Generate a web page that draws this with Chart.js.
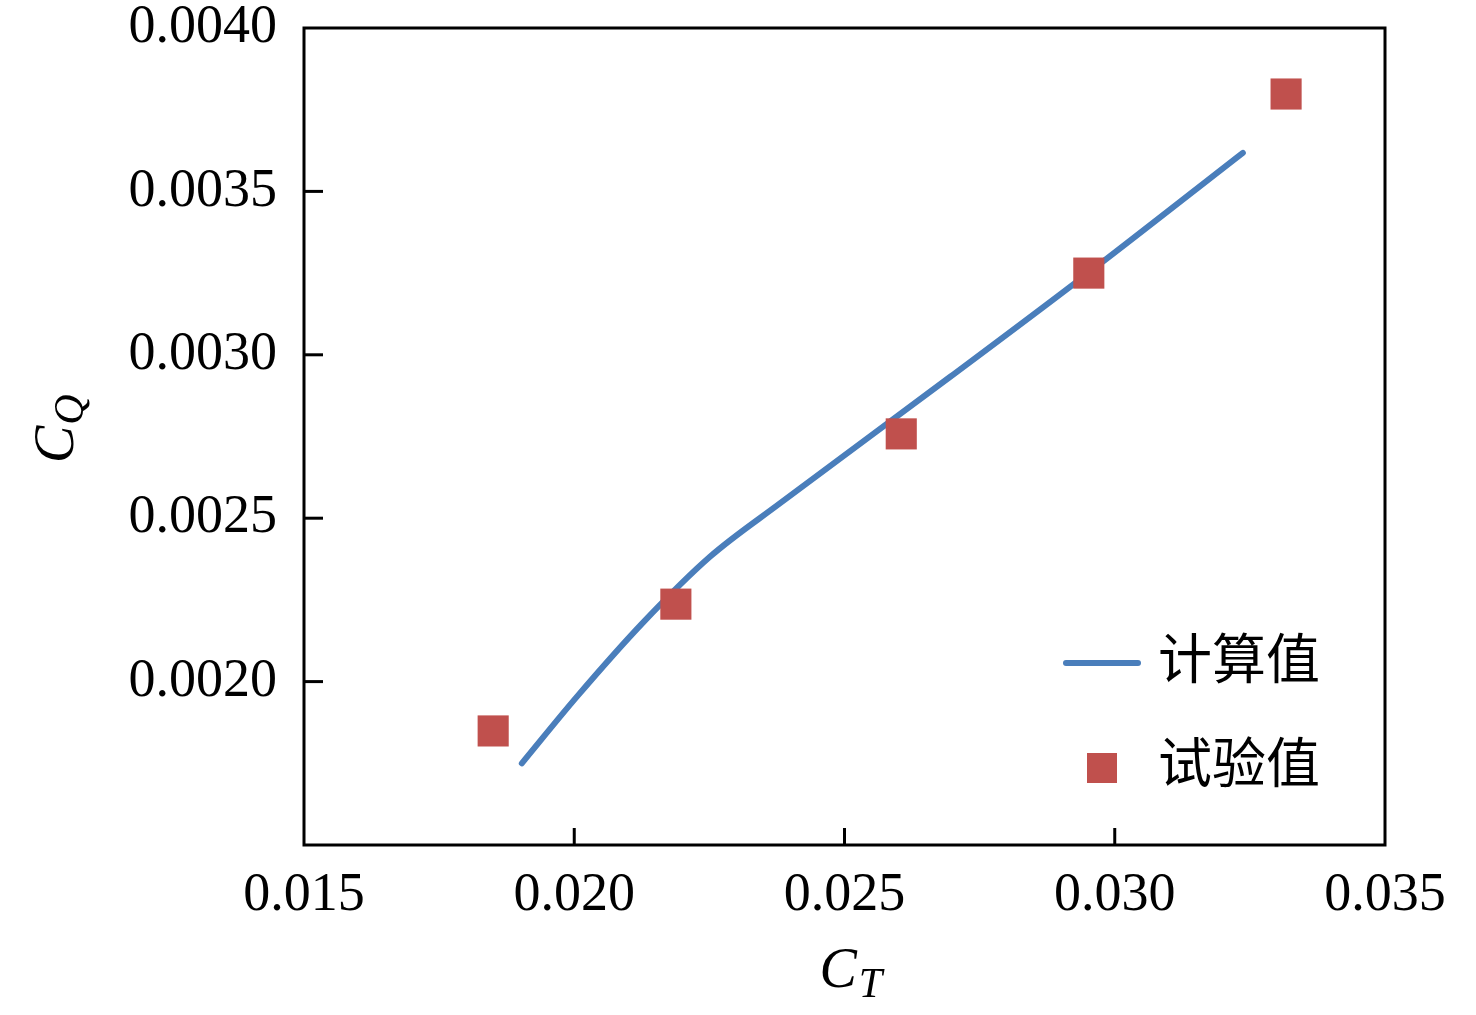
<!DOCTYPE html>
<html>
<head>
<meta charset="utf-8">
<script src="https://cdn.jsdelivr.net/npm/chart.js@4.4.1/dist/chart.umd.min.js"></script>
<style>
  html, body { margin: 0; padding: 0; background: #ffffff; }
  #wrap { width: 1476px; height: 1015px; }
</style>
</head>
<body>
<div id="wrap"><canvas id="c" width="1476" height="1015"></canvas></div>
<script>
// ---- data ----
const calcLabel = '计算值';
const testLabel = '试验值';
const calcCT = [0.01903, 0.02005, 0.02128, 0.02251, 0.02381, 0.02695, 0.02941, 0.03237];
const calcCQ = [0.001750, 0.001954, 0.002182, 0.002382, 0.002546, 0.002932, 0.003238, 0.003618];
const testCT = [0.01850, 0.02188, 0.02605, 0.02952, 0.03317];
const testCQ = [0.001849, 0.002237, 0.002758, 0.003250, 0.003798];
const xTicks = [0.015, 0.020, 0.025, 0.030, 0.035];
const xTickLabels = ['0.015', '0.020', '0.025', '0.030', '0.035'];
const yTicks = [0.0015, 0.0020, 0.0025, 0.0030, 0.0035, 0.0040];
const yTickLabels = ['', '0.0020', '0.0025', '0.0030', '0.0035', '0.0040'];
const xTitle = ['C', 'T'];
const yTitle = ['C', 'Q'];

const LINE_COLOR = '#4A7EBB';
const MARK_COLOR = '#C0504D';
const SERIF = '"Liberation Serif", "Times New Roman", "Noto Sans CJK SC", serif';

const framePlugin = {
  id: 'frame',
  afterDraw(chart) {
    const ctx = chart.ctx;
    const a = chart.chartArea;
    const xs = chart.scales.x, ys = chart.scales.y;
    ctx.save();
    ctx.strokeStyle = '#000';
    ctx.lineWidth = 3;
    ctx.strokeRect(a.left, a.top, a.right - a.left, a.bottom - a.top);
    // inward ticks
    xs.ticks.forEach(t => {
      const px = xs.getPixelForValue(t.value);
      if (px <= a.left + 2 || px >= a.right - 2) return;
      ctx.beginPath(); ctx.moveTo(px, a.bottom); ctx.lineTo(px, a.bottom - 17); ctx.stroke();
    });
    ys.ticks.forEach(t => {
      const py = ys.getPixelForValue(t.value);
      if (py <= a.top + 2 || py >= a.bottom - 2) return;
      ctx.beginPath(); ctx.moveTo(a.left, py); ctx.lineTo(a.left + 19, py); ctx.stroke();
    });
    // axis titles
    ctx.fillStyle = '#000';
    ctx.textBaseline = 'alphabetic';
    ctx.textAlign = 'left';
    ctx.font = 'italic 56px ' + SERIF;
    const cw = ctx.measureText(xTitle[0]).width;
    const xt0 = (a.left + a.right) / 2 - 25;
    ctx.fillText(xTitle[0], xt0, 987);
    ctx.font = 'italic 42px ' + SERIF;
    ctx.fillText(xTitle[1], xt0 + cw + 2, 997);
    ctx.save();
    ctx.translate(73, 463);
    ctx.rotate(-Math.PI / 2);
    ctx.font = 'italic 56px ' + SERIF;
    const cw2 = ctx.measureText(yTitle[0]).width;
    ctx.fillText(yTitle[0], 0, 0);
    ctx.font = 'italic 42px ' + SERIF;
    ctx.fillText(yTitle[1], cw2 + 1, 10);
    ctx.restore();
    // legend
    const ds = chart.data.datasets;
    const lx = a.right - 319;
    ctx.strokeStyle = ds[0].borderColor;
    ctx.lineWidth = 6;
    ctx.lineCap = 'round';
    ctx.beginPath(); ctx.moveTo(lx, 663); ctx.lineTo(lx + 72, 663); ctx.stroke();
    ctx.fillStyle = ds[1].backgroundColor;
    ctx.fillRect(lx + 21, 753, 30, 30);
    ctx.fillStyle = '#000';
    ctx.font = '54px ' + SERIF;
    ctx.textBaseline = 'middle';
    ctx.fillText(ds[0].label, lx + 92, 665);
    ctx.fillText(ds[1].label, lx + 92, 769);
    ctx.restore();
  }
};

new Chart(document.getElementById('c'), {
  type: 'scatter',
  data: {
    datasets: [
      {
        label: calcLabel,
        data: calcCT.map((x, i) => ({ x: x, y: calcCQ[i] })),
        showLine: true,
        borderColor: LINE_COLOR,
        backgroundColor: LINE_COLOR,
        borderWidth: 6,
        borderCapStyle: 'round',
        borderJoinStyle: 'round',
        pointRadius: 0,
        cubicInterpolationMode: 'monotone',
        order: 2
      },
      {
        label: testLabel,
        data: testCT.map((x, i) => ({ x: x, y: testCQ[i] })),
        showLine: false,
        pointStyle: 'rect',
        pointRadius: 22,
        pointHoverRadius: 22,
        backgroundColor: MARK_COLOR,
        borderColor: MARK_COLOR,
        borderWidth: 0,
        order: 1
      }
    ]
  },
  options: {
    responsive: false,
    animation: false,
    devicePixelRatio: 1,
    layout: { padding: { top: 28, right: 91, left: 0, bottom: 0 } },
    plugins: { legend: { display: false }, tooltip: { enabled: false } },
    scales: {
      x: {
        type: 'linear',
        min: 0.015, max: 0.035,
        afterBuildTicks: s => { s.ticks = xTicks.map(v => ({ value: v })); },
        afterFit: s => { s.height = 170; s.paddingLeft = 0; s.paddingRight = 0; },
        grid: { display: false, drawTicks: false },
        border: { display: false },
        ticks: {
          color: '#000',
          font: { family: SERIF, size: 54, lineHeight: 1 },
          padding: 24,
          maxRotation: 0,
          callback: (v, i) => xTickLabels[i]
        }
      },
      y: {
        type: 'linear',
        min: 0.0015, max: 0.0040,
        afterBuildTicks: s => { s.ticks = yTicks.map(v => ({ value: v })); },
        afterFit: s => { s.width = 304; s.paddingTop = 0; s.paddingBottom = 0; },
        grid: { display: false, drawTicks: false },
        border: { display: false },
        ticks: {
          color: '#000',
          font: { family: SERIF, size: 54, lineHeight: 1 },
          padding: 27,
          callback: (v, i) => yTickLabels[i]
        }
      }
    }
  },
  plugins: [framePlugin]
});
</script>
</body>
</html>
